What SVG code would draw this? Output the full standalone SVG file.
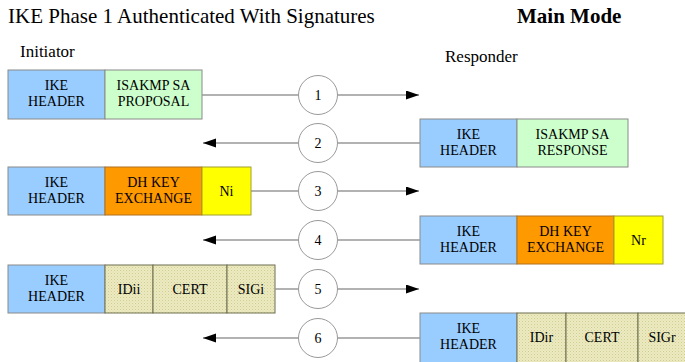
<svg xmlns="http://www.w3.org/2000/svg" width="685" height="362" viewBox="0 0 685 362">
  <style>
    text { font-family: "Liberation Serif", "Times New Roman", serif; fill: #000; }
    .cell { stroke: #8a8a8a; stroke-width: 1; }
    .hdr { fill: #99ccff; }
    .sa { fill: #ccffcc; }
    .dh { fill: #ff9900; stroke: #b07020; }
    .nonce { fill: #ffff00; stroke: #a0a030; }
    .pay { fill: url(#dots); stroke: #6e6e50; }
    .lbl { font-size: 14px; text-anchor: middle; }
    .wire { stroke: #999; stroke-width: 1.3; fill: none; }
    .step { fill: #fff; stroke: #999; stroke-width: 1; }
    .num { font-size: 14px; text-anchor: middle; }
  </style>
  <defs>
    <pattern id="dots" width="3" height="3" patternUnits="userSpaceOnUse">
      <rect width="3" height="3" fill="#ecebc0"/>
      <rect x="0" y="0" width="1" height="1" fill="#cfcd96"/>
      <rect x="1.5" y="1.5" width="1" height="1" fill="#d8d6a4"/>
    </pattern>
    <marker id="head" markerWidth="14" markerHeight="10" refX="13" refY="4.5" orient="auto" markerUnits="userSpaceOnUse">
      <path d="M0,0 L13,4.5 L0,9 z" fill="#000"/>
    </marker>
  </defs>

  <!-- headings -->
  <g id="titles">
    <text x="8" y="23" font-size="21">IKE Phase 1 Authenticated With Signatures</text>
    <text x="517" y="23" font-size="21" font-weight="bold">Main Mode</text>
    <text x="20" y="57" font-size="17">Initiator</text>
    <text x="445" y="62" font-size="17">Responder</text>
  </g>

  <!-- message 1: initiator -->
  <g id="msg1">
    <rect class="cell hdr" x="8" y="70" width="97" height="49"/>
    <rect class="cell sa" x="105" y="70" width="97" height="49"/>
    <text class="lbl" x="56.5" y="90">IKE</text>
    <text class="lbl" x="56.5" y="106">HEADER</text>
    <text class="lbl" x="153.5" y="90">ISAKMP SA</text>
    <text class="lbl" x="153.5" y="106">PROPOSAL</text>
  </g>

  <!-- message 2: responder -->
  <g id="msg2">
    <rect class="cell hdr" x="420" y="119" width="97" height="48"/>
    <rect class="cell sa" x="517" y="119" width="111" height="48"/>
    <text class="lbl" x="468.5" y="139">IKE</text>
    <text class="lbl" x="468.5" y="155">HEADER</text>
    <text class="lbl" x="572.5" y="139">ISAKMP SA</text>
    <text class="lbl" x="572.5" y="155">RESPONSE</text>
  </g>

  <!-- message 3: initiator -->
  <g id="msg3">
    <rect class="cell hdr" x="8" y="167" width="97" height="48"/>
    <rect class="cell dh" x="105" y="167" width="97" height="48"/>
    <rect class="cell nonce" x="202" y="167" width="49" height="48"/>
    <text class="lbl" x="56.5" y="187">IKE</text>
    <text class="lbl" x="56.5" y="203">HEADER</text>
    <text class="lbl" x="153.5" y="187">DH KEY</text>
    <text class="lbl" x="153.5" y="203">EXCHANGE</text>
    <text class="lbl" x="226.5" y="196">Ni</text>
  </g>

  <!-- message 4: responder -->
  <g id="msg4">
    <rect class="cell hdr" x="420" y="216" width="97" height="48"/>
    <rect class="cell dh" x="517" y="216" width="97" height="48"/>
    <rect class="cell nonce" x="614" y="216" width="49" height="48"/>
    <text class="lbl" x="468.5" y="236">IKE</text>
    <text class="lbl" x="468.5" y="252">HEADER</text>
    <text class="lbl" x="565.5" y="236">DH KEY</text>
    <text class="lbl" x="565.5" y="252">EXCHANGE</text>
    <text class="lbl" x="638.5" y="245">Nr</text>
  </g>

  <!-- message 5: initiator -->
  <g id="msg5">
    <rect class="cell hdr" x="8" y="265" width="97" height="48"/>
    <rect class="cell pay" x="105" y="265" width="48" height="48"/>
    <rect class="cell pay" x="153" y="265" width="74" height="48"/>
    <rect class="cell pay" x="227" y="265" width="48" height="48"/>
    <text class="lbl" x="56.5" y="285">IKE</text>
    <text class="lbl" x="56.5" y="301">HEADER</text>
    <text class="lbl" x="129" y="294">IDii</text>
    <text class="lbl" x="190" y="294">CERT</text>
    <text class="lbl" x="251" y="294">SIGi</text>
  </g>

  <!-- message 6: responder -->
  <g id="msg6">
    <rect class="cell hdr" x="420" y="313" width="97" height="50"/>
    <rect class="cell pay" x="517" y="313" width="49" height="50"/>
    <rect class="cell pay" x="566" y="313" width="72" height="50"/>
    <rect class="cell pay" x="638" y="313" width="48" height="50"/>
    <text class="lbl" x="468.5" y="333">IKE</text>
    <text class="lbl" x="468.5" y="349">HEADER</text>
    <text class="lbl" x="541.5" y="342">IDir</text>
    <text class="lbl" x="602" y="342">CERT</text>
    <text class="lbl" x="662" y="342">SIGr</text>
  </g>

  <!-- exchange arrows with step numbers -->
  <g id="connectors">
    <line class="wire" x1="202" y1="95" x2="419" y2="95" marker-end="url(#head)"/>
    <line class="wire" x1="420" y1="143" x2="203" y2="143" marker-end="url(#head)"/>
    <line class="wire" x1="251" y1="191" x2="419" y2="191" marker-end="url(#head)"/>
    <line class="wire" x1="420" y1="240" x2="203" y2="240" marker-end="url(#head)"/>
    <line class="wire" x1="275" y1="289" x2="419" y2="289" marker-end="url(#head)"/>
    <line class="wire" x1="420" y1="338" x2="203" y2="338" marker-end="url(#head)"/>

    <circle class="step" cx="318" cy="95" r="19.5"/>
    <circle class="step" cx="318" cy="143" r="19.5"/>
    <circle class="step" cx="318" cy="191" r="19.5"/>
    <circle class="step" cx="318" cy="240" r="19.5"/>
    <circle class="step" cx="318" cy="289" r="19.5"/>
    <circle class="step" cx="318" cy="338" r="19.5"/>
    <text class="num" x="318" y="100">1</text>
    <text class="num" x="318" y="148">2</text>
    <text class="num" x="318" y="196">3</text>
    <text class="num" x="318" y="245">4</text>
    <text class="num" x="318" y="294">5</text>
    <text class="num" x="318" y="343">6</text>
  </g>
</svg>
